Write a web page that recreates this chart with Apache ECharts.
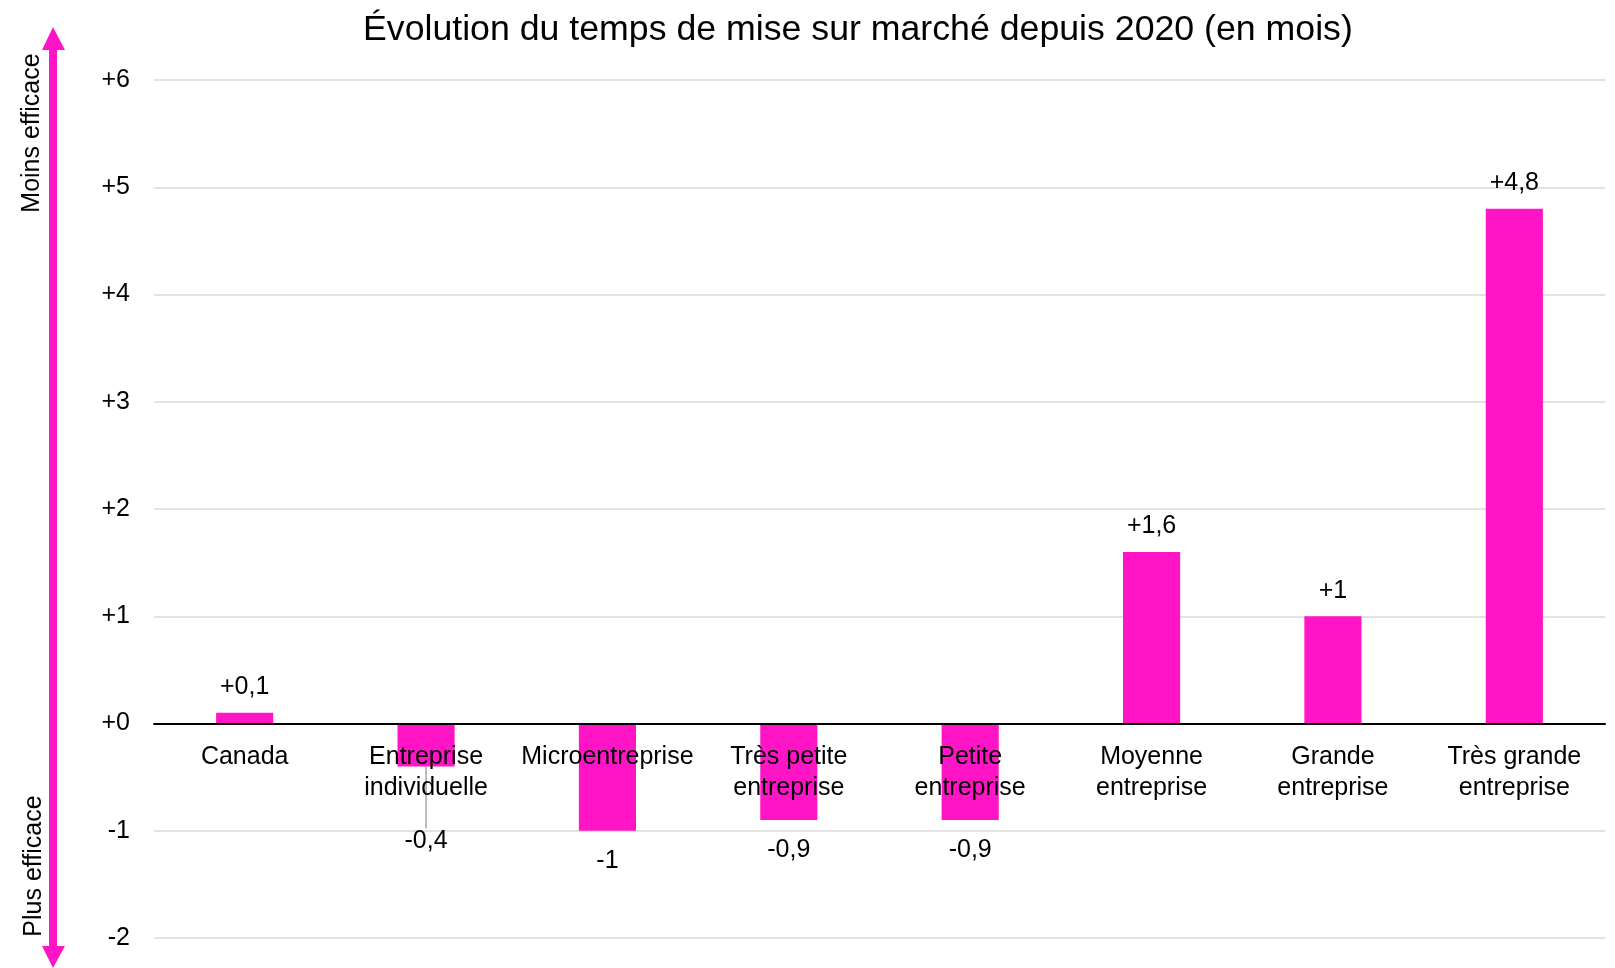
<!DOCTYPE html>
<html>
<head>
<meta charset="utf-8">
<script src="https://cdn.jsdelivr.net/npm/echarts@6/dist/echarts.min.js"></script>
<style>
  html, body { margin: 0; padding: 0; background: #fff; }
  #chart { width: 1615px; height: 968px; }
</style>
</head>
<body>
<div id="chart"></div>
<script>
// Données
const categories = [
  'Canada', 'Entreprise\nindividuelle', 'Microentreprise', 'Très petite\nentreprise',
  'Petite\nentreprise', 'Moyenne\nentreprise', 'Grande\nentreprise', 'Très grande\nentreprise'
]
const values = [0.1, -0.4, -1, -0.9, -0.9, 1.6, 1, 4.8]
const titleText = 'Évolution du temps de mise sur marché depuis 2020 (en mois)'
const upLabel = 'Moins efficace'
const downLabel = 'Plus efficace'

const pink = '#ff14c6'
const font = 'Liberation Sans'
const yMin = -2
const yMax = 6
const gridTop = 80
const gridBottom = 30
const H = 968

// +0,1 / -0,4 / -1 ...
const fmt = (v) => {
  const s = String(Math.abs(v)).replace('.', ',')
  return (v < 0 ? '-' : '+') + s
}

// category axis sits on the zero line (labels too)
const plotH = H - gridTop - gridBottom
const zeroOffset = -plotH * (0 - yMin) / (yMax - yMin)

const chart = echarts.init(document.getElementById('chart'))

chart.setOption({
  animation: false,
  textStyle: { fontFamily: font },
  title: {
    text: titleText,
    left: 358,
    top: 7,
    textStyle: { fontSize: 35.7, fontWeight: 'normal', color: '#000', fontFamily: font }
  },
  grid: { left: 154, right: 10, top: gridTop, bottom: gridBottom, containLabel: false, outerBoundsMode: 'none' },
  xAxis: {
    type: 'category',
    data: categories,
    z: 10,
    offset: zeroOffset,
    axisLine: { onZero: false, lineStyle: { color: '#000', width: 2 } },
    axisTick: { show: false },
    axisLabel: {
      interval: 0,
      margin: 18,
      fontSize: 25,
      lineHeight: 31,
      color: '#000',
      verticalAlign: 'top'
    }
  },
  yAxis: {
    type: 'value',
    min: yMin,
    max: yMax,
    interval: 1,
    axisLine: { show: false },
    axisTick: { show: false },
    axisLabel: {
      margin: 24,
      fontSize: 25,
      color: '#000',
      formatter: (v) => (v < 0 ? String(v) : '+' + v)
    },
    splitLine: { lineStyle: { color: '#d9d9d9', width: 1.5 } }
  },
  series: [
    {
      type: 'bar',
      data: values.map((v, i) => ({
        value: v,
        label: { position: v < 0 ? 'bottom' : 'top', distance: v < 0 ? 18 : 13 },
        labelLine: { show: i === 1 }
      })),
      barWidth: '31.5%',
      itemStyle: { color: pink },
      label: {
        show: true,
        fontSize: 25,
        color: '#000',
        formatter: (p) => fmt(p.value)
      },
      labelLayout: (p) => (p.dataIndex === 1 ? { dy: 44 } : {}),
      labelLine: { show: false, lineStyle: { color: '#a6a6a6', width: 1.5 } }
    }
  ],
  graphic: [
    // flèche verticale
    { type: 'rect', shape: { x: 49, y: 48, width: 8, height: 900 }, style: { fill: pink } },
    { type: 'polygon', shape: { points: [[42, 50], [53, 27], [65, 50]] }, style: { fill: pink } },
    { type: 'polygon', shape: { points: [[42, 946], [53, 968], [65, 946]] }, style: { fill: pink } },
    {
      type: 'text', x: 32, y: 133, rotation: Math.PI / 2,
      style: { text: upLabel, fontSize: 25, fontFamily: font, fill: '#000', align: 'center', verticalAlign: 'middle' }
    },
    {
      type: 'text', x: 34, y: 866, rotation: Math.PI / 2,
      style: { text: downLabel, fontSize: 25, fontFamily: font, fill: '#000', align: 'center', verticalAlign: 'middle' }
    }
  ]
})
</script>
</body>
</html>
